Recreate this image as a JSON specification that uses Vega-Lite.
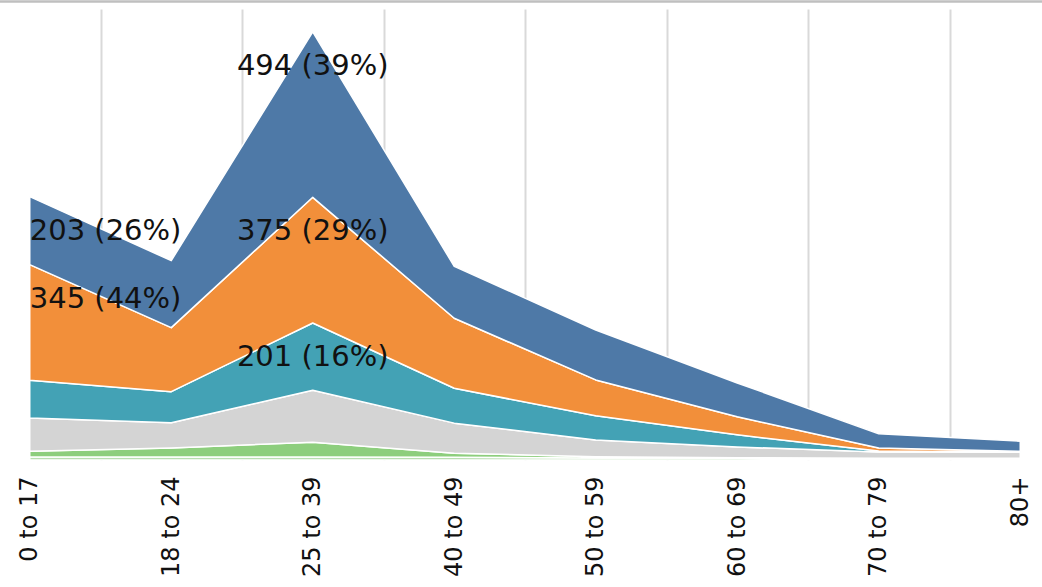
{
  "$schema": "https://vega.github.io/schema/vega-lite/v6.json",
  "width": 1132,
  "height": 451,
  "autosize": {"type": "none"},
  "padding": {"left": -41, "top": 9, "right": 0, "bottom": 127},
  "background": "white",
  "config": {"view": {"stroke": null}, "font": "DejaVu Sans"},
  "data": {
    "values": [
      {"age": "0 to 17", "series": "Series 1", "value": 9},
      {"age": "0 to 17", "series": "Series 2", "value": 17},
      {"age": "0 to 17", "series": "Series 3", "value": 99},
      {"age": "0 to 17", "series": "Series 4", "value": 113},
      {"age": "0 to 17", "series": "Series 5", "value": 345, "label": "345 (44%)"},
      {"age": "0 to 17", "series": "Series 6", "value": 203, "label": "203 (26%)"},
      {"age": "18 to 24", "series": "Series 1", "value": 9},
      {"age": "18 to 24", "series": "Series 2", "value": 27},
      {"age": "18 to 24", "series": "Series 3", "value": 75},
      {"age": "18 to 24", "series": "Series 4", "value": 93},
      {"age": "18 to 24", "series": "Series 5", "value": 191},
      {"age": "18 to 24", "series": "Series 6", "value": 200},
      {"age": "25 to 39", "series": "Series 1", "value": 9},
      {"age": "25 to 39", "series": "Series 2", "value": 44},
      {"age": "25 to 39", "series": "Series 3", "value": 155},
      {"age": "25 to 39", "series": "Series 4", "value": 201, "label": "201 (16%)"},
      {"age": "25 to 39", "series": "Series 5", "value": 375, "label": "375 (29%)"},
      {"age": "25 to 39", "series": "Series 6", "value": 494, "label": "494 (39%)"},
      {"age": "40 to 49", "series": "Series 1", "value": 8},
      {"age": "40 to 49", "series": "Series 2", "value": 12},
      {"age": "40 to 49", "series": "Series 3", "value": 90},
      {"age": "40 to 49", "series": "Series 4", "value": 104},
      {"age": "40 to 49", "series": "Series 5", "value": 209},
      {"age": "40 to 49", "series": "Series 6", "value": 155},
      {"age": "50 to 59", "series": "Series 1", "value": 6},
      {"age": "50 to 59", "series": "Series 2", "value": 4},
      {"age": "50 to 59", "series": "Series 3", "value": 50},
      {"age": "50 to 59", "series": "Series 4", "value": 72},
      {"age": "50 to 59", "series": "Series 5", "value": 107},
      {"age": "50 to 59", "series": "Series 6", "value": 149},
      {"age": "60 to 69", "series": "Series 1", "value": 5},
      {"age": "60 to 69", "series": "Series 2", "value": 2},
      {"age": "60 to 69", "series": "Series 3", "value": 32},
      {"age": "60 to 69", "series": "Series 4", "value": 36},
      {"age": "60 to 69", "series": "Series 5", "value": 54},
      {"age": "60 to 69", "series": "Series 6", "value": 101},
      {"age": "70 to 79", "series": "Series 1", "value": 4},
      {"age": "70 to 79", "series": "Series 2", "value": 1},
      {"age": "70 to 79", "series": "Series 3", "value": 19},
      {"age": "70 to 79", "series": "Series 4", "value": 3},
      {"age": "70 to 79", "series": "Series 5", "value": 9},
      {"age": "70 to 79", "series": "Series 6", "value": 42},
      {"age": "80+", "series": "Series 1", "value": 4},
      {"age": "80+", "series": "Series 2", "value": 1},
      {"age": "80+", "series": "Series 3", "value": 18},
      {"age": "80+", "series": "Series 4", "value": 1},
      {"age": "80+", "series": "Series 5", "value": 2},
      {"age": "80+", "series": "Series 6", "value": 30}
    ]
  },
  "transform": [
    {"stack": "value", "groupby": ["age"], "sort": [{"field": "series", "order": "ascending"}], "as": ["v0", "v1"]}
  ],
  "layer": [
    {
      "mark": {"type": "area", "stroke": "white", "strokeWidth": 1.5, "strokeJoin": "round", "opacity": 1},
      "encoding": {
        "x": {
          "field": "age", "type": "ordinal",
          "sort": ["0 to 17", "18 to 24", "25 to 39", "40 to 49", "50 to 59", "60 to 69", "70 to 79", "80+"],
          "bandPosition": 0.5,
          "scale": {"type": "band", "paddingInner": 0, "paddingOuter": 0},
          "axis": {
            "orient": "bottom", "title": null, "labelAngle": -90, "labelAlign": "right", "labelBaseline": "middle",
            "labelFont": "DejaVu Sans", "labelFontSize": 24, "labelColor": "#111111", "labelPadding": 16,
            "ticks": false, "tickSize": 0, "domain": false, "grid": true, "gridColor": "#d9d9d9", "gridWidth": 2,
            "tickBand": "extent"
          }
        },
        "y": {"field": "v1", "type": "quantitative", "stack": null, "scale": {"domain": [0, 1346], "nice": false}, "axis": null},
        "y2": {"field": "v0"},
        "color": {
          "field": "series", "type": "nominal",
          "scale": {
            "domain": ["Series 1", "Series 2", "Series 3", "Series 4", "Series 5", "Series 6"],
            "range": ["#b8deb0", "#8dce7d", "#d4d4d4", "#43a2b5", "#f28f3a", "#4e79a7"]
          },
          "legend": null
        }
      }
    },
    {
      "transform": [{"filter": "isValid(datum.label) && datum.age !== '0 to 17'"}],
      "mark": {"type": "text", "align": "center", "baseline": "middle", "dy": 34, "fontSize": 29, "font": "DejaVu Sans", "color": "#111111"},
      "encoding": {
        "x": {
          "field": "age", "type": "ordinal",
          "sort": ["0 to 17", "18 to 24", "25 to 39", "40 to 49", "50 to 59", "60 to 69", "70 to 79", "80+"],
          "bandPosition": 0.5,
          "axis": {"orient": "top", "title": null, "labels": false, "ticks": false, "grid": false, "domain": true, "domainColor": "#bfbfbf", "domainWidth": 2.5, "offset": 8}
        },
        "y": {"field": "v1", "type": "quantitative"},
        "text": {"field": "label"}
      }
    },
    {
      "transform": [{"filter": "isValid(datum.label) && datum.age === '0 to 17'"}],
      "mark": {"type": "text", "align": "left", "baseline": "middle", "dy": 34, "fontSize": 29, "font": "DejaVu Sans", "color": "#111111"},
      "encoding": {
        "x": {
          "field": "age", "type": "ordinal",
          "sort": ["0 to 17", "18 to 24", "25 to 39", "40 to 49", "50 to 59", "60 to 69", "70 to 79", "80+"],
          "bandPosition": 0.5,
          "axis": null
        },
        "y": {"field": "v1", "type": "quantitative"},
        "text": {"field": "label"}
      }
    }
  ],
  "resolve": {"axis": {"x": "independent"}}
}
